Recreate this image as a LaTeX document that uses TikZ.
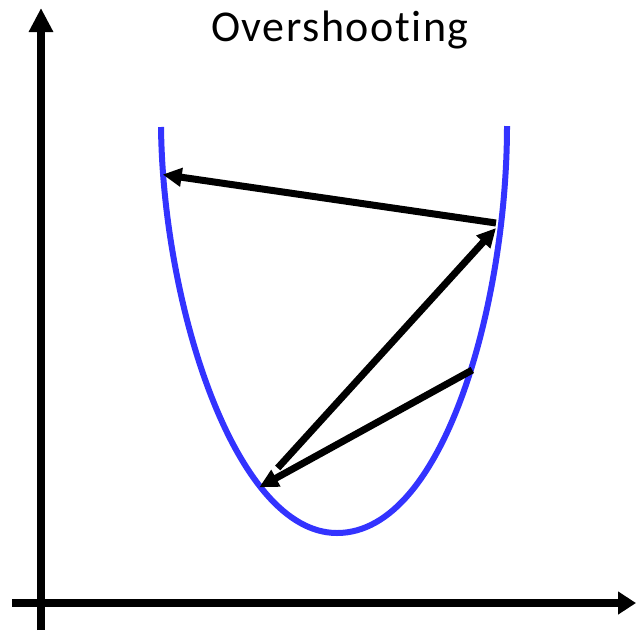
\documentclass[tikz,border=0pt]{standalone}
\usepackage{fontspec}
\setmainfont{Carlito}[Ligatures=NoCommon]
\newfontfamily\titlefont{Carlito}[Ligatures=NoCommon, LetterSpace=3.5]
\usetikzlibrary{arrows.meta}
\definecolor{curveblue}{RGB}{51,51,255}
\tikzset{
  axisline/.style={line width=8pt, -{Triangle[length=24pt,width=23pt]}},
  stepline/.style={line width=7pt, -{Triangle[length=19pt,width=18pt]}},
  curveline/.style={line width=6pt, curveblue},
}
\begin{document}
\begin{tikzpicture}[x=1pt,y=-1pt]
\useasboundingbox (0,0) rectangle (636,630);
% axes
\coordinate (yb) at (41,630);
\coordinate (yt) at (41,8);
\coordinate (xl) at (12,603);
\coordinate (xr) at (636,603);
\draw[axisline] (yb) -- (yt);
\draw[line width=8pt, -{Triangle[length=18pt,width=22pt]}] (xl) -- (xr);
% title
\node[anchor=base, font=\titlefont\fontsize{44}{50}\selectfont, inner sep=0pt] (title) at (340,41.7) {Overshooting};
% curve
\coordinate (cl) at (161,127);
\coordinate (cv) at (337,533);
\coordinate (cr) at (507,126);
\draw[curveline] (cl) .. controls (163,305) and (235,533) .. (cv)
                      .. controls (445,533) and (507,300) .. (cr);
% steps
\coordinate (p1) at (472.3,370);
\coordinate (p2) at (259.3,487.3);
\coordinate (p3) at (277.7,468);
\coordinate (p4) at (496,228);
\coordinate (p5) at (496,223);
\coordinate (p6) at (162.7,174.5);
\draw[stepline] (p3) -- (p4);
\draw[stepline] (p1) -- (p2);
\draw[stepline] (p5) -- (p6);
\end{tikzpicture}
\end{document}
